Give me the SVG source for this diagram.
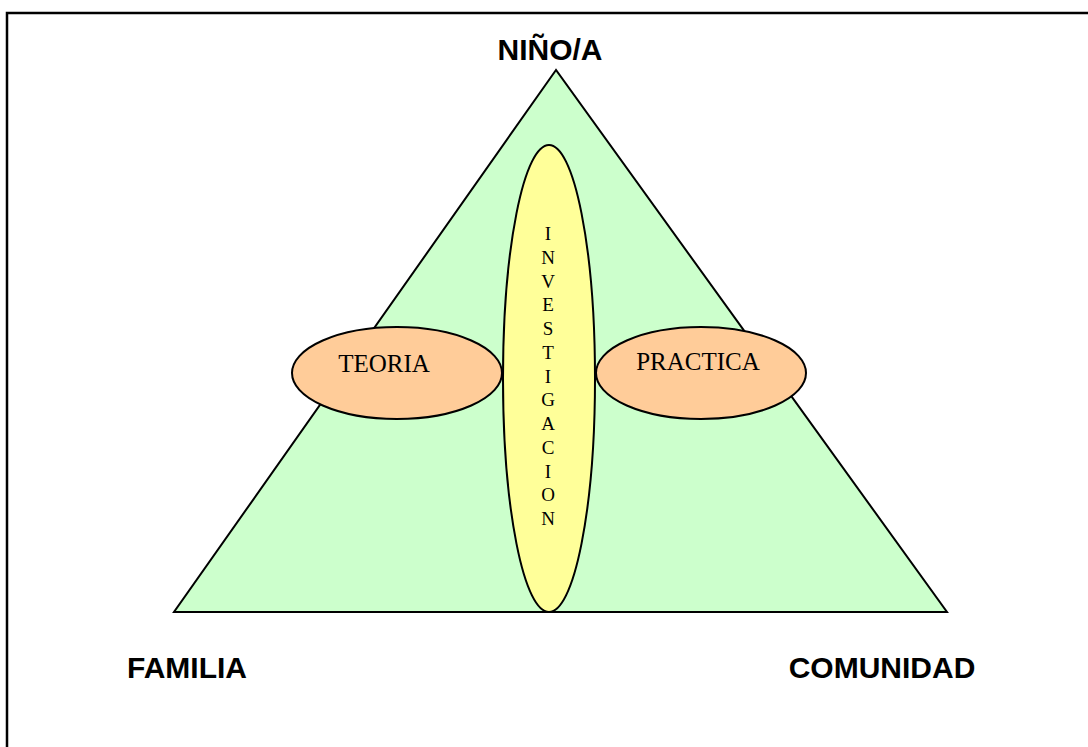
<svg xmlns="http://www.w3.org/2000/svg" width="1088" height="747" viewBox="0 0 1088 747">
<style>
.title{font-family:"Liberation Sans",Arial,sans-serif;font-weight:bold;font-size:30px;fill:#000}
.lbl{font-family:"Liberation Serif","Times New Roman",serif;font-size:25px;fill:#000}
.vl{font-family:"Liberation Serif","Times New Roman",serif;font-size:19px;fill:#000;text-anchor:middle}
.shape{stroke:#000;stroke-width:2}
</style>
<rect width="1088" height="747" fill="#fff"/>
<path d="M7,760 V13 H1100" fill="none" stroke="#000" stroke-width="2.5"/>
<g id="triangle">
<polygon class="shape" points="556,70 174,612 947,612" fill="#CCFFCC"/>
</g>
<g id="teoria">
<ellipse class="shape" cx="397" cy="373" rx="105" ry="46" fill="#FFCC99"/>
<text class="lbl" x="384" y="372" text-anchor="middle">TEORIA</text>
</g>
<g id="practica">
<ellipse class="shape" cx="701" cy="373" rx="105" ry="46" fill="#FFCC99"/>
<text class="lbl" x="698" y="370" text-anchor="middle">PRACTICA</text>
</g>
<g id="investigacion">
<ellipse class="shape" cx="549" cy="378.5" rx="46" ry="233.5" fill="#FFFF99"/>
<text class="vl" x="548" y="240">I</text>
<text class="vl" x="548" y="263.75">N</text>
<text class="vl" x="548" y="287.5">V</text>
<text class="vl" x="548" y="311.25">E</text>
<text class="vl" x="548" y="335">S</text>
<text class="vl" x="548" y="358.75">T</text>
<text class="vl" x="548" y="382.5">I</text>
<text class="vl" x="548" y="406.25">G</text>
<text class="vl" x="548" y="430">A</text>
<text class="vl" x="548" y="453.75">C</text>
<text class="vl" x="548" y="477.5">I</text>
<text class="vl" x="548" y="501.25">O</text>
<text class="vl" x="548" y="525">N</text>
</g>
<g id="nino">
<text class="title" x="550" y="60" text-anchor="middle">NIÑO/A</text>
</g>
<g id="familia">
<text class="title" x="187" y="678" text-anchor="middle">FAMILIA</text>
</g>
<g id="comunidad">
<text class="title" x="882" y="678" text-anchor="middle">COMUNIDAD</text>
</g>
<g id="connectors"></g>
</svg>
